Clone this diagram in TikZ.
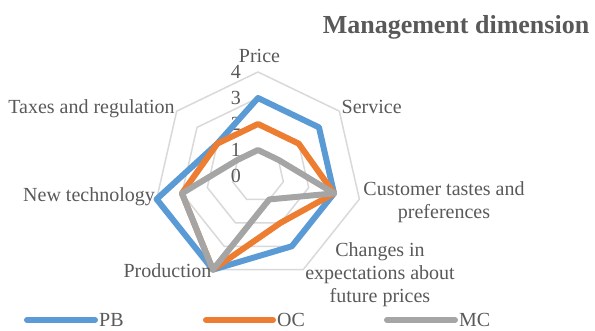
\documentclass[tikz,border=0pt]{standalone}
\usepackage{fontspec}
\setmainfont{Liberation Serif}
\usetikzlibrary{positioning}

\definecolor{pbblue}{HTML}{5B9BD5}
\definecolor{ocorange}{HTML}{ED7D31}
\definecolor{mcgray}{HTML}{A5A5A5}
\definecolor{gridgray}{HTML}{D9D9D9}
\definecolor{txtgray}{HTML}{595959}

\begin{document}
\begin{tikzpicture}[x=1pt, y=1pt,
    lbl/.style={text=txtgray, inner sep=0pt, align=center, font=\fontsize{20}{23}\selectfont},
    series/.style={line width=6pt, line join=round, line cap=round},
    keyline/.style={line width=6pt, line cap=round}]
    \useasboundingbox (0,0) rectangle (595,331);

    % Title
    \node[lbl, anchor=base, font=\fontsize{26}{30}\selectfont\bfseries] (title) at (456,297.7) {Management dimension};

    \begin{scope}[shift={(258,155)}]
        % Grid heptagons
        \foreach \r in {1,...,4}
            \draw[gridgray, line width=1.5pt] (90:{26*\r})
                \foreach \k in {1,...,6} { -- ({90-\k*360/7}:{26*\r}) } -- cycle;

        % Scale values
        \foreach \r in {0,...,4}
            \node[lbl, anchor=east] (val\r) at (-17,{26*\r}) {\r};

        % Data points
        \foreach \v [count=\k from 0] in {3,3,3,3,4,4,2}
            \coordinate (pb\k) at ({90-\k*360/7}:{26*\v});
        \foreach \v [count=\k from 0] in {2,2,3,2,4,3,2}
            \coordinate (oc\k) at ({90-\k*360/7}:{26*\v});
        \foreach \v [count=\k from 0] in {1,1,3,1,4,3,1}
            \coordinate (mc\k) at ({90-\k*360/7}:{26*\v});

        % Series, PB first so that MC lies on top
        \draw[series, pbblue] (pb0) -- (pb1) -- (pb2) -- (pb3) -- (pb4) -- (pb5) -- (pb6) -- cycle;
        \draw[series, ocorange] (oc0) -- (oc1) -- (oc2) -- (oc3) -- (oc4) -- (oc5) -- (oc6) -- cycle;
        \draw[series, mcgray] (mc0) -- (mc1) -- (mc2) -- (mc3) -- (mc4) -- (mc5) -- (mc6) -- cycle;
    \end{scope}

    % Category labels
    \node[lbl, anchor=base] (price) at (259.5,268.3) {Price};
    \node[lbl, anchor=base] (service) at (371.7,217.7) {Service};
    \node[lbl, anchor=north] (taste) at (444,150) {Customer tastes and\\preferences};
    \node[lbl, anchor=north] (expect) at (380,88.5) {Changes in\\expectations about\\future prices};
    \node[lbl, anchor=base] (prod) at (167.5,53.3) {Production};
    \node[lbl, anchor=base] (tech) at (89,129.3) {New technology};
    \node[lbl, anchor=base] (tax) at (91.5,217) {Taxes and regulation};

    % Legend
    \coordinate (pbend) at (95,11);
    \coordinate (ocend) at (273,11);
    \coordinate (mcend) at (455,11);
    \draw[keyline, pbblue] (27,11) -- (pbend);
    \draw[keyline, ocorange] (206,11) -- (ocend);
    \draw[keyline, mcgray] (387,11) -- (mcend);
    \node[lbl, right=4pt of pbend] (pbkey) {PB};
    \node[lbl, right=4pt of ocend] (ockey) {OC};
    \node[lbl, right=4pt of mcend] (mckey) {MC};
\end{tikzpicture}
\end{document}
